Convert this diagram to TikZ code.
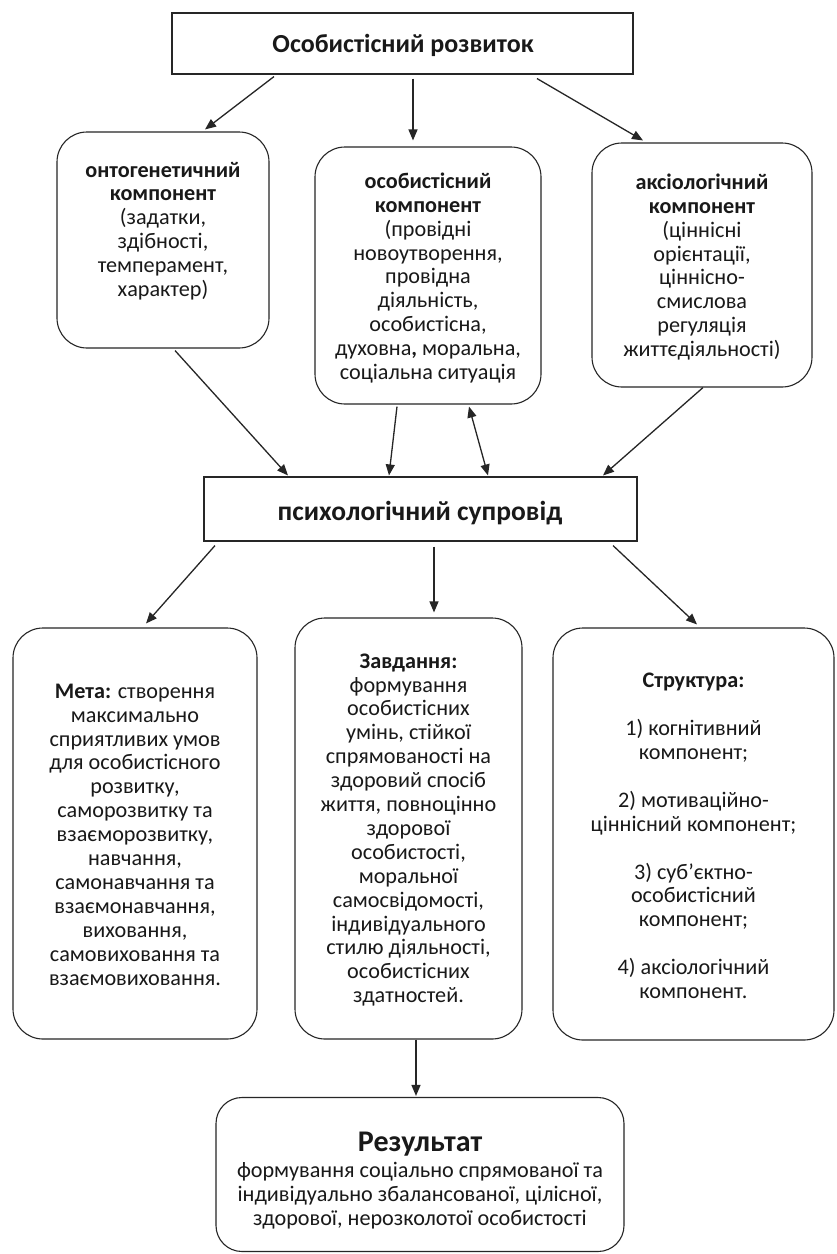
\documentclass[tikz,border=0pt]{standalone}
\usepackage{fontspec}
\setmainfont{Carlito}
\usetikzlibrary{arrows.meta}
\begin{document}
\begin{tikzpicture}[x=1pt,y=-1pt,
  box/.style={draw=black!85, line width=1.1pt, inner sep=0pt},
  rbox/.style={box, rounded corners=30pt},
  txt/.style={align=center, inner sep=0pt, text=black!90, font=\fontsize{22.2}{23.9}\selectfont},
  arr/.style={draw=black!85, line width=1.3pt, -{Triangle[length=11pt,width=9pt]}},
  darr/.style={draw=black!85, line width=1.3pt, {Triangle[length=11pt,width=9pt]}-{Triangle[length=11pt,width=9pt]}}
]
\useasboundingbox (0,0) rectangle (837,1254);
\fill[white] (0,0) rectangle (837,1254);

% boxes
\node[box, minimum width=461pt, minimum height=61pt] (top) at (402.5,43.5) {};
\node[rbox, minimum width=212pt, minimum height=216pt] (A) at (163,240) {};
\node[rbox, minimum width=226pt, minimum height=257pt] (B) at (428,275.5) {};
\node[rbox, minimum width=220pt, minimum height=244pt] (C) at (702,265) {};
\node[box, minimum width=433pt, minimum height=64pt] (P) at (420.5,509) {};
\node[rbox, minimum width=244pt, minimum height=411pt] (M) at (135,833.5) {};
\node[rbox, minimum width=227pt, minimum height=421pt] (Z) at (408.5,828.5) {};
\node[rbox, minimum width=281pt, minimum height=412pt] (S) at (693.5,834) {};
\node[rbox, rounded corners=26pt, minimum width=408pt, minimum height=154pt] (R) at (420,1174.5) {};

% texts
\node[txt, font=\fontsize{26}{28}\selectfont\bfseries] (ttop) at (403,45) {Особистісний розвиток};
\node[txt, font=\fontsize{27.5}{29}\selectfont\bfseries] (tP) at (420,513) {психологічний супровід};
\node[txt] (tA) at (163,231) {\textbf{онтогенетичний}\\\textbf{компонент}\\(задатки,\\здібності,\\темперамент,\\характер)};
\node[txt] (tB) at (428,278) {\textbf{особистісний}\\\textbf{компонент}\\(провідні\\новоутворення,\\провідна\\діяльність,\\особистісна,\\духовна\textbf{,} моральна,\\соціальна ситуація};
\node[txt] (tC) at (702,267) {\textbf{аксіологічний}\\\textbf{компонент}\\(ціннісні\\орієнтації,\\ціннісно-\\смислова\\регуляція\\життєдіяльності)};
\node[txt] (tM) at (135,834.5) {\textbf{Мета:} створення\\максимально\\сприятливих умов\\для особистісного\\розвитку,\\саморозвитку та\\взаєморозвитку,\\навчання,\\самонавчання та\\взаємонавчання,\\виховання,\\самовиховання та\\взаємовиховання.};
\node[txt] (tZ) at (408.5,830) {\textbf{Завдання:}\\формування\\особистісних\\умінь, стійкої\\спрямованості на\\здоровий спосіб\\життя, повноцінно\\здорової\\особистості,\\моральної\\самосвідомості,\\індивідуального\\стилю діяльності,\\особистісних\\здатностей.};
\node[txt] (tS) at (693.5,836) {\textbf{Структура:}\\[23.9pt]1) когнітивний\\компонент;\\[23.9pt]2) мотиваційно-\\ціннісний компонент;\\[23.9pt]3) суб’єктно-\\особистісний\\компонент;\\[23.9pt]4) аксіологічний\\компонент.};
\node[txt, font=\fontsize{30}{32}\selectfont\bfseries] (tR1) at (420,1144) {Результат};
\node[txt] (tR2) at (420,1196) {формування соціально спрямованої та\\індивідуально збалансованої, цілісної,\\здорової, нерозколотої особистості};

% connectors
\draw[arr] ([xshift=-128.5pt,yshift=-2pt]top.south) -- ([xshift=42pt,yshift=2pt]A.north);
\draw[arr] ([xshift=10.5pt,yshift=-4pt]top.south) -- ([xshift=-15pt,yshift=6pt]B.north);
\draw[arr] ([xshift=134.5pt,yshift=-4pt]top.south) -- ([xshift=-59pt,yshift=2pt]C.north);
\draw[arr] ([xshift=12pt,yshift=-2pt]A.south) -- ([xshift=-132.5pt,yshift=1pt]P.north);
\draw[arr] ([xshift=-31pt,yshift=-2pt]B.south) -- ([xshift=-31.5pt,yshift=1pt]P.north);
\draw[darr] ([xshift=41pt,yshift=-2pt]B.south) -- ([xshift=67.5pt,yshift=1pt]P.north);
\draw[arr] ([xshift=1pt]C.south) -- ([xshift=182.5pt,yshift=1pt]P.north);
\draw[arr] ([xshift=-205.5pt,yshift=-4pt]P.south) -- ([xshift=11pt,yshift=4pt]M.north);
\draw[arr] ([xshift=13.5pt,yshift=-5pt]P.south) -- ([xshift=25.5pt,yshift=5pt]Z.north);
\draw[arr] ([xshift=192.5pt,yshift=-4pt]P.south) -- ([xshift=3.5pt,yshift=3pt]S.north);
\draw[arr] ([xshift=7.5pt]Z.south) -- ([xshift=-4pt,yshift=1pt]R.north);
\end{tikzpicture}
\end{document}
